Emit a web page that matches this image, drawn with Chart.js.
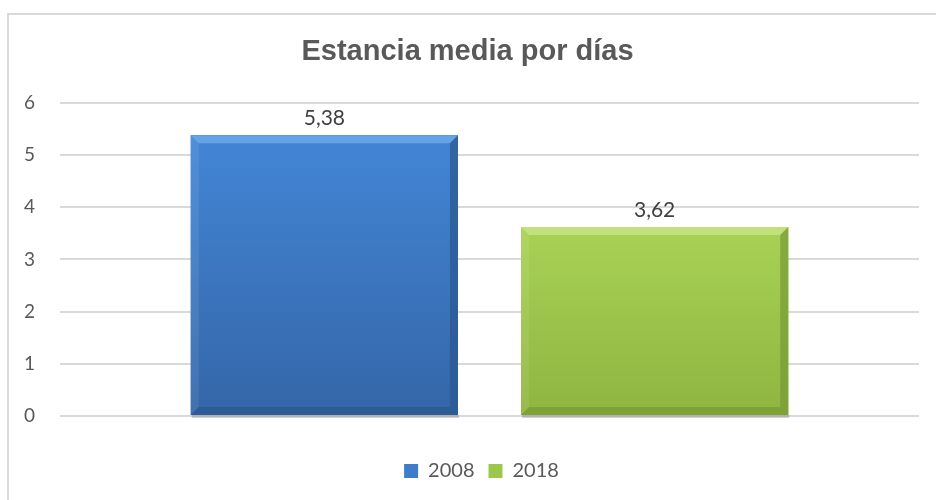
<!DOCTYPE html>
<html>
<head>
<meta charset="utf-8">
<script src="https://cdn.jsdelivr.net/npm/chart.js@4"></script>
<style>
  html, body { margin: 0; padding: 0; background: #fff; overflow: hidden; }
  #frame { position: absolute; left: 7px; top: 13px; width: 960px; height: 520px; border: 2px solid #d9d9d9; box-sizing: border-box; }
  #wrap { position: absolute; left: 0; top: 0; width: 936px; height: 500px; }
</style>
</head>
<body>
<div id="frame"></div>
<div id="wrap"><canvas id="chart"></canvas></div>
<script>
const chartTitle = 'Estancia media por días';
const categories = [''];
const seriesNames = ['2008', '2018'];
const seriesValues = [5.38, 3.62];
const seriesColors = ['#3f7dcc', '#9bc84a'];
const yMin = 0, yMax = 6, yStep = 1;

// bevel shades per series: [top edge, body top, body bottom, right/bottom edge]
const bevelShades = [
  ['#64a3e8', '#4386d6', '#3466a8', '#2b578f'],
  ['#c2e07c', '#a8d256', '#8fb540', '#789a33']
];

const fmt = v => v.toFixed(2).replace('.', ',');

// nudge title and legend to sit where the original has them
const shiftBoxes = {
  id: 'shiftBoxes',
  afterLayout(chart) {
    if (chart.titleBlock) { chart.titleBlock.left += 8; chart.titleBlock.right += 8; }
    if (chart.legend) { chart.legend.left += 22; chart.legend.right += 22; }
  }
};

const bevelBars = {
  id: 'bevelBars',
  afterDatasetsDraw(chart) {
    const ctx = chart.ctx;
    chart.data.datasets.forEach((ds, i) => {
      const meta = chart.getDatasetMeta(i);
      const sh = bevelShades[i];
      meta.data.forEach((bar, j) => {
        const l = bar.x - bar.width / 2, r = bar.x + bar.width / 2;
        const t = bar.y, b = bar.base, bv = 8;
        ctx.save();
        // soft shadow under the bar
        ctx.fillStyle = 'rgba(0,0,0,0.18)';
        ctx.fillRect(l + 1, b, r - l, 3);
        // body
        const g = ctx.createLinearGradient(0, t, 0, b);
        g.addColorStop(0, sh[1]);
        g.addColorStop(1, sh[2]);
        ctx.fillStyle = g;
        ctx.fillRect(l, t, r - l, b - t);
        // top bevel
        ctx.fillStyle = sh[0];
        ctx.beginPath();
        ctx.moveTo(l, t); ctx.lineTo(r, t); ctx.lineTo(r - bv, t + bv); ctx.lineTo(l + bv, t + bv); ctx.closePath();
        ctx.fill();
        // left bevel
        ctx.fillStyle = 'rgba(255,255,255,0.08)';
        ctx.beginPath();
        ctx.moveTo(l, t); ctx.lineTo(l + bv, t + bv); ctx.lineTo(l + bv, b - bv); ctx.lineTo(l, b); ctx.closePath();
        ctx.fill();
        // right and bottom bevel
        ctx.fillStyle = sh[3];
        ctx.globalAlpha = 0.7;
        ctx.beginPath();
        ctx.moveTo(r, t); ctx.lineTo(r - bv, t + bv); ctx.lineTo(r - bv, b - bv); ctx.lineTo(r, b); ctx.closePath();
        ctx.fill();
        ctx.beginPath();
        ctx.moveTo(l, b); ctx.lineTo(l + bv, b - bv); ctx.lineTo(r - bv, b - bv); ctx.lineTo(r, b); ctx.closePath();
        ctx.fill();
        ctx.restore();
        // value label
        ctx.save();
        ctx.fillStyle = '#404040';
        ctx.font = '21px Lato';
        ctx.textAlign = 'center';
        ctx.textBaseline = 'bottom';
        ctx.fillText(fmt(ds.data[j]), bar.x, t - 6);
        ctx.restore();
      });
    });
  }
};

new Chart(document.getElementById('chart'), {
  type: 'bar',
  data: {
    labels: categories,
    datasets: seriesNames.map((name, i) => ({
      label: name,
      data: [seriesValues[i]],
      backgroundColor: seriesColors[i],
      categoryPercentage: 0.769,
      barPercentage: 0.809
    }))
  },
  options: {
    responsive: true,
    maintainAspectRatio: false,
    animation: false,
    layout: { padding: { left: 0, right: 17, top: 0, bottom: 9 } },
    scales: {
      x: {
        grid: { display: false },
        border: { display: false },
        ticks: { display: false },
        afterFit: s => { s.height = 31; }
      },
      y: {
        min: yMin, max: yMax,
        ticks: { stepSize: yStep, color: '#595959', font: { family: 'Lato', size: 19 }, padding: 25 },
        grid: { color: '#d9d9d9', lineWidth: 2, drawTicks: false },
        border: { display: false },
        afterFit: s => { s.width = 60; }
      }
    },
    plugins: {
      title: {
        display: true,
        text: chartTitle,
        color: '#595959',
        font: { family: 'Liberation Sans', size: 29, weight: 'bold', lineHeight: 1.2 },
        padding: { top: 35, bottom: 33 }
      },
      legend: {
        position: 'bottom',
        labels: {
          color: '#595959',
          font: { family: 'Lato', size: 20 },
          boxWidth: 14, boxHeight: 14,
          padding: 14
        }
      },
      tooltip: { enabled: false }
    }
  },
  plugins: [bevelBars, shiftBoxes]
});
</script>
</body>
</html>
